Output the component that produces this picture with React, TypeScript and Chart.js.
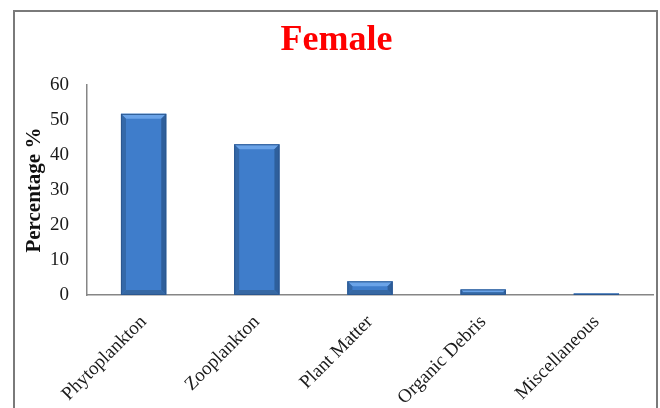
import React, { useEffect, useRef } from "react";
import { Chart, registerables } from "chart.js";

Chart.register(...registerables);

const categories = ["Phytoplankton", "Zooplankton", "Plant Matter", "Organic Debris", "Miscellaneous"];
const femaleValues = [51.8, 43.1, 3.9, 1.6, 0.4];
const yTickValues = [0, 10, 20, 30, 40, 50, 60];

const bevelPlugin = {
  id: "bevel",
  afterDatasetsDraw(chart: any) {
    const ctx = chart.ctx;
    const meta = chart.getDatasetMeta(0);
    meta.data.forEach((el: any) => {
      const p = el.getProps(["x", "y", "base", "width"], true);
      const l = p.x - p.width / 2;
      const r = p.x + p.width / 2;
      const t = Math.min(p.y, p.base);
      const bot = Math.max(p.y, p.base);
      const h = bot - t;
      if (h < 1) return;
      const b = Math.min(5, h / 2);
      ctx.save();
      ctx.fillStyle = "#6aa3e8";
      ctx.beginPath();
      ctx.moveTo(l, t);
      ctx.lineTo(r, t);
      ctx.lineTo(r - b, t + b);
      ctx.lineTo(l + b, t + b);
      ctx.closePath();
      ctx.fill();
      ctx.fillStyle = "#3468a8";
      ctx.beginPath();
      ctx.moveTo(l, t);
      ctx.lineTo(l + b, t + b);
      ctx.lineTo(l + b, bot - b);
      ctx.lineTo(l, bot);
      ctx.closePath();
      ctx.fill();
      ctx.fillStyle = "#2e5f9c";
      ctx.beginPath();
      ctx.moveTo(r, t);
      ctx.lineTo(r - b, t + b);
      ctx.lineTo(r - b, bot - b);
      ctx.lineTo(r, bot);
      ctx.closePath();
      ctx.fill();
      ctx.fillStyle = "#3668a3";
      ctx.beginPath();
      ctx.moveTo(l, bot);
      ctx.lineTo(r, bot);
      ctx.lineTo(r - b, bot - b);
      ctx.lineTo(l + b, bot - b);
      ctx.closePath();
      ctx.fill();
      ctx.strokeStyle = "#2b578f";
      ctx.lineWidth = 1;
      ctx.strokeRect(l + 0.5, t + 0.5, r - l - 1, h - 1);
      ctx.restore();
    });
  },
};

const serif = "'Liberation Serif', 'Times New Roman', serif";

export default function App() {
  const canvasRef = useRef<HTMLCanvasElement | null>(null);

  useEffect(() => {
    if (!canvasRef.current) return;
    const chart = new Chart(canvasRef.current, {
      type: "bar",
      data: {
        labels: categories,
        datasets: [
          {
            label: "Female",
            data: femaleValues,
            backgroundColor: "#3f7dcb",
            borderWidth: 0,
            barPercentage: 0.4,
            categoryPercentage: 1,
          },
        ],
      },
      plugins: [bevelPlugin],
      options: {
        animation: false,
        responsive: false,
        maintainAspectRatio: false,
        layout: { padding: { left: 20, right: 7, top: 0, bottom: 0 } },
        plugins: {
          legend: { display: false },
          tooltip: { enabled: false },
          title: {
            display: true,
            text: "Female",
            color: "#ff0000",
            font: { family: serif, size: 36, weight: "bold" },
            padding: { top: 19, bottom: 23 },
          },
        },
        scales: {
          x: {
            grid: { display: false },
            border: { display: true, color: "#868686", width: 1.5 },
            ticks: {
              color: "#1a1a1a",
              font: { family: serif, size: 19 },
              minRotation: 45,
              maxRotation: 45,
              padding: 8,
            },
            afterFit(scale: any) {
              scale.height = 113;
            },
          },
          y: {
            min: 0,
            max: 60,
            grid: { display: false },
            border: { display: true, color: "#868686", width: 1.5 },
            afterBuildTicks(scale: any) {
              scale.ticks = yTickValues.map((v) => ({ value: v }));
            },
            ticks: {
              color: "#1a1a1a",
              font: { family: serif, size: 19 },
              padding: 10,
            },
            title: {
              display: true,
              text: "Percentage %",
              color: "#111111",
              font: { family: serif, size: 21, weight: "bold" },
              padding: { top: 2, bottom: 0 },
            },
            afterFit(scale: any) {
              scale.width = 67;
            },
          },
        },
      },
    });
    return () => chart.destroy();
  }, []);

  return (
    <div style={{ position: "fixed", left: 0, top: 0, width: 660, height: 408, overflow: "hidden", background: "#ffffff" }}>
      <div
        style={{
          position: "absolute",
          left: 13,
          top: 10,
          width: 645,
          height: 430,
          border: "2px solid #7a7a7a",
          boxSizing: "border-box",
        }}
      />
      <canvas
        ref={canvasRef}
        width={660}
        height={408}
        style={{ position: "absolute", left: 0, top: 0, width: 660, height: 408 }}
      />
    </div>
  );
}
